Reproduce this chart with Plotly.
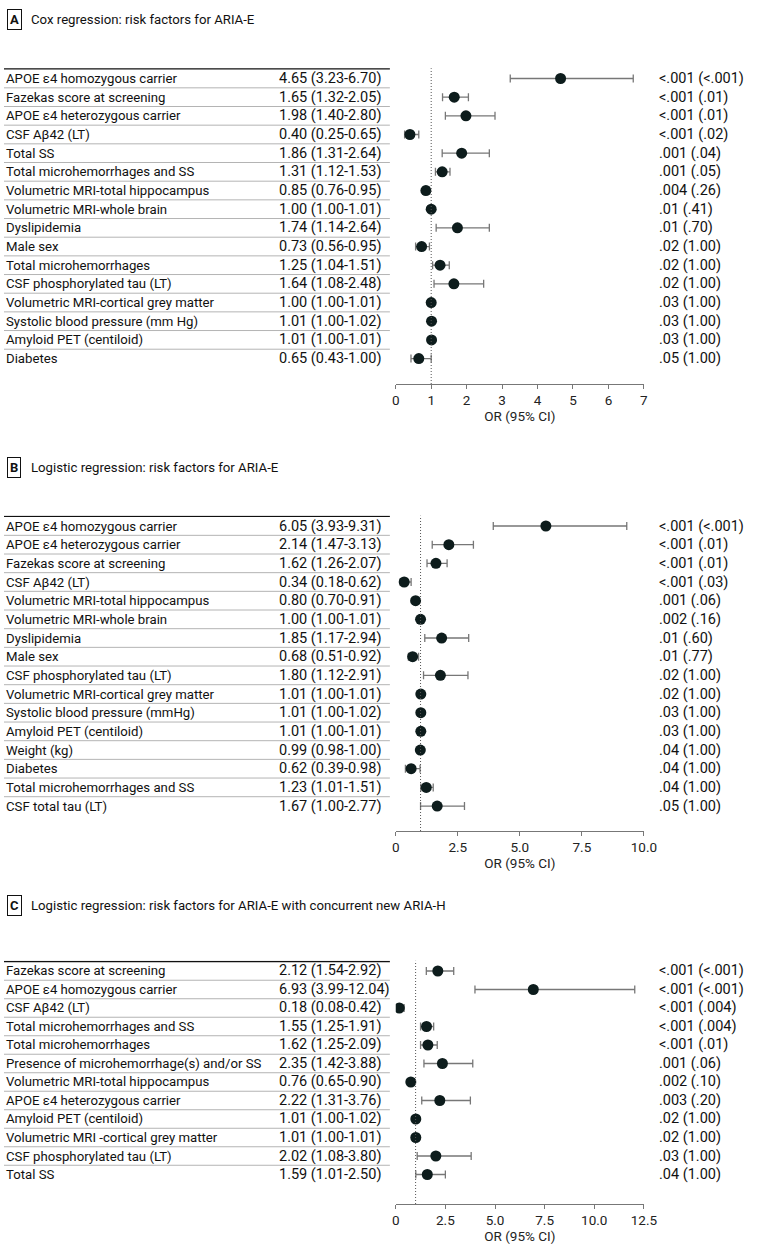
import plotly.graph_objects as go

W, H = 780, 1256

# ---------------- Data ----------------
a_labels = ["APOE ε4 homozygous carrier", "Fazekas score at screening", "APOE ε4 heterozygous carrier",
            "CSF Aβ42 (LT)", "Total SS", "Total microhemorrhages and SS", "Volumetric MRI-total hippocampus",
            "Volumetric MRI-whole brain", "Dyslipidemia", "Male sex", "Total microhemorrhages",
            "CSF phosphorylated tau (LT)", "Volumetric MRI-cortical grey matter",
            "Systolic blood pressure (mm Hg)", "Amyloid PET (centiloid)", "Diabetes"]
a_est = [4.65, 1.65, 1.98, 0.40, 1.86, 1.31, 0.85, 1.00, 1.74, 0.73, 1.25, 1.64, 1.00, 1.01, 1.01, 0.65]
a_lo = [3.23, 1.32, 1.40, 0.25, 1.31, 1.12, 0.76, 1.00, 1.14, 0.56, 1.04, 1.08, 1.00, 1.00, 1.00, 0.43]
a_hi = [6.70, 2.05, 2.80, 0.65, 2.64, 1.53, 0.95, 1.01, 2.64, 0.95, 1.51, 2.48, 1.01, 1.02, 1.01, 1.00]
a_p = ["<.001 (<.001)", "<.001 (.01)", "<.001 (.01)", "<.001 (.02)", ".001 (.04)", ".001 (.05)",
       ".004 (.26)", ".01 (.41)", ".01 (.70)", ".02 (1.00)", ".02 (1.00)", ".02 (1.00)", ".03 (1.00)",
       ".03 (1.00)", ".03 (1.00)", ".05 (1.00)"]
a_tickvals = [0, 1, 2, 3, 4, 5, 6, 7]
a_ticktext = ["0", "1", "2", "3", "4", "5", "6", "7"]

b_labels = ["APOE ε4 homozygous carrier", "APOE ε4 heterozygous carrier", "Fazekas score at screening",
            "CSF Aβ42 (LT)", "Volumetric MRI-total hippocampus", "Volumetric MRI-whole brain", "Dyslipidemia",
            "Male sex", "CSF phosphorylated tau (LT)", "Volumetric MRI-cortical grey matter",
            "Systolic blood pressure (mmHg)", "Amyloid PET (centiloid)", "Weight (kg)", "Diabetes",
            "Total microhemorrhages and SS", "CSF total tau (LT)"]
b_est = [6.05, 2.14, 1.62, 0.34, 0.80, 1.00, 1.85, 0.68, 1.80, 1.01, 1.01, 1.01, 0.99, 0.62, 1.23, 1.67]
b_lo = [3.93, 1.47, 1.26, 0.18, 0.70, 1.00, 1.17, 0.51, 1.12, 1.00, 1.00, 1.00, 0.98, 0.39, 1.01, 1.00]
b_hi = [9.31, 3.13, 2.07, 0.62, 0.91, 1.01, 2.94, 0.92, 2.91, 1.01, 1.02, 1.01, 1.00, 0.98, 1.51, 2.77]
b_p = ["<.001 (<.001)", "<.001 (.01)", "<.001 (.01)", "<.001 (.03)", ".001 (.06)", ".002 (.16)",
       ".01 (.60)", ".01 (.77)", ".02 (1.00)", ".02 (1.00)", ".03 (1.00)", ".03 (1.00)", ".04 (1.00)",
       ".04 (1.00)", ".04 (1.00)", ".05 (1.00)"]
b_tickvals = [0, 2.5, 5.0, 7.5, 10.0]
b_ticktext = ["0", "2.5", "5.0", "7.5", "10.0"]

c_labels = ["Fazekas score at screening", "APOE ε4 homozygous carrier", "CSF Aβ42 (LT)",
            "Total microhemorrhages and SS", "Total microhemorrhages",
            "Presence of microhemorrhage(s) and/or SS", "Volumetric MRI-total hippocampus",
            "APOE ε4 heterozygous carrier", "Amyloid PET (centiloid)", "Volumetric MRI -cortical grey matter",
            "CSF phosphorylated tau (LT)", "Total SS"]
c_est = [2.12, 6.93, 0.18, 1.55, 1.62, 2.35, 0.76, 2.22, 1.01, 1.01, 2.02, 1.59]
c_lo = [1.54, 3.99, 0.08, 1.25, 1.25, 1.42, 0.65, 1.31, 1.00, 1.00, 1.08, 1.01]
c_hi = [2.92, 12.04, 0.42, 1.91, 2.09, 3.88, 0.90, 3.76, 1.02, 1.01, 3.80, 2.50]
c_p = ["<.001 (<.001)", "<.001 (<.001)", "<.001 (.004)", "<.001 (.004)", "<.001 (.01)", ".001 (.06)",
       ".002 (.10)", ".003 (.20)", ".02 (1.00)", ".02 (1.00)", ".03 (1.00)", ".04 (1.00)"]
c_tickvals = [0, 2.5, 5.0, 7.5, 10.0, 12.5]
c_ticktext = ["0", "2.5", "5.0", "7.5", "10.0", "12.5"]

panels = [
    dict(letter="A", title="Cox regression: risk factors for ARIA-E", header="HR (95% CI)",
         labels=a_labels, est=a_est, lo=a_lo, hi=a_hi, p=a_p, tv=a_tickvals, tt=a_ticktext, xmax=7,
         title_y=20, row1=78.5, step=18.67, axis_y=384),
    dict(letter="B", title="Logistic regression: risk factors for ARIA-E", header="OR (95% CI)",
         labels=b_labels, est=b_est, lo=b_lo, hi=b_hi, p=b_p, tv=b_tickvals, tt=b_ticktext, xmax=10,
         title_y=467, row1=526, step=18.67, axis_y=831),
    dict(letter="C", title="Logistic regression: risk factors for ARIA-E with concurrent new ARIA-H",
         header="OR (95% CI)",
         labels=c_labels, est=c_est, lo=c_lo, hi=c_hi, p=c_p, tv=c_tickvals, tt=c_ticktext, xmax=12.5,
         title_y=905, row1=971, step=18.5, axis_y=1204),
]


def PX(x):
    return x / W


def PY(y):
    return (H - y) / H


FONT = "Roboto"
X_LABEL = 0
X_CI = 279
X_P = 668
X_AX0, X_AX1 = 401, 655
TABLE_END = 395
MARK = "#0d1c1c"
WHISK = "#777777"
LABELFONT = dict(size=13.2)
NUMFONT = dict(size=14.5)

fig = go.Figure()
annotations = []
shapes = []

for k, pn in enumerate(panels, start=1):
    sx = "" if k == 1 else str(k)
    xa, ya = "x" + sx, "y" + sx
    n = len(pn["labels"])
    rows = list(range(n))
    top_px = pn["row1"] - 0.55 * pn["step"]
    y_lo = (pn["axis_y"] - pn["row1"]) / pn["step"]
    y_hi = (top_px - pn["row1"]) / pn["step"]

    fig.add_trace(go.Scatter(
        x=pn["est"], y=rows, xaxis=xa, yaxis=ya, mode="markers",
        marker=dict(size=11, color=MARK),
        error_x=dict(type="data", symmetric=False,
                     array=[h - e for h, e in zip(pn["hi"], pn["est"])],
                     arrayminus=[e - l for e, l in zip(pn["est"], pn["lo"])],
                     color=WHISK, thickness=1.3, width=4),
        showlegend=False, hoverinfo="skip"))

    fig.layout["xaxis" + sx] = dict(
        domain=[PX(X_AX0), PX(X_AX1)], anchor=ya, range=[0, pn["xmax"]],
        tickvals=pn["tv"], ticktext=pn["tt"], showline=True, linecolor="#777", linewidth=1,
        ticks="outside", ticklen=4, tickcolor="#777", showgrid=False, zeroline=False,
        tickfont=dict(size=13.5, color="#222"),
        title=dict(text="OR (95% CI)", font=dict(size=13.5, color="#222"), standoff=3))
    fig.layout["yaxis" + sx] = dict(
        domain=[PY(pn["axis_y"]), PY(top_px)], anchor=xa,
        range=[y_lo, y_hi], visible=False, showgrid=False, zeroline=False)

    # reference line at 1
    shapes.append(dict(type="line", xref=xa, yref=ya + " domain", x0=1, x1=1, y0=0, y1=1,
                       line=dict(color="#555", width=1, dash="1px,2px")))

    # table rows
    for i in rows:
        e, l, h = pn["est"][i], pn["lo"][i], pn["hi"][i]
        annotations.append(dict(xref="paper", yref=ya, x=PX(X_LABEL), y=i, xanchor="left",
                                yanchor="middle", text=pn["labels"][i], showarrow=False,
                                font=LABELFONT))
        annotations.append(dict(xref="paper", yref=ya, x=PX(X_CI), y=i, xanchor="left",
                                yanchor="middle", text=f"{e:.2f} ({l:.2f}-{h:.2f})", showarrow=False,
                                font=NUMFONT))
        annotations.append(dict(xref="paper", yref=ya, x=PX(X_P), y=i, xanchor="left",
                                yanchor="middle", text=pn["p"][i], showarrow=False, font=NUMFONT))
        if i < n - 1:
            shapes.append(dict(type="line", xref="paper", yref=ya, x0=PX(0), x1=PX(TABLE_END),
                               y0=i + 0.5, y1=i + 0.5, line=dict(color="#b4b4b4", width=1)))
    # header line
    shapes.append(dict(type="line", xref="paper", yref=ya, x0=PX(0), x1=PX(TABLE_END),
                       y0=-0.52, y1=-0.52, line=dict(color="#111", width=1.5)))
    # headers
    annotations.append(dict(xref="paper", yref=ya, x=PX(X_CI), y=-1, xanchor="left", yanchor="middle",
                            text="<b>" + pn["header"] + "</b>", showarrow=False, font=dict(size=13.5)))
    annotations.append(dict(xref="paper", yref=ya, x=PX(X_P), y=-1, xanchor="left", yanchor="middle",
                            text="<b>(adjusted <i>P</i> value)</b>", showarrow=False, font=dict(size=13.5)))
    annotations.append(dict(xref="paper", yref=ya, x=PX(X_P), y=-2, xanchor="left", yanchor="middle",
                            text="<b><i>P</i> value</b>", showarrow=False, font=dict(size=13.5)))
    # panel title
    ty = PY(pn["title_y"])
    annotations.append(dict(xref="paper", yref="paper", x=PX(3), y=ty, xanchor="left", yanchor="middle",
                            text="<b>" + pn["letter"] + "</b>", showarrow=False,
                            bordercolor="#111", borderwidth=1, borderpad=2, font=dict(size=13)))
    annotations.append(dict(xref="paper", yref="paper", x=PX(26), y=ty, xanchor="left", yanchor="middle",
                            text=pn["title"], showarrow=False, font=dict(size=13.2)))

fig.update_layout(
    width=W, height=H, margin=dict(l=0, r=0, t=0, b=0),
    paper_bgcolor="white", plot_bgcolor="white",
    font=dict(family=FONT, size=13, color="#111"),
    annotations=annotations, shapes=shapes,
)

fig.write_html(
    "out.html",
    config={"displayModeBar": False, "staticPlot": True},
    post_script=("document.documentElement.style.overflow='hidden';"
                 "document.body.style.overflow='hidden';"
                 "document.body.style.margin='0px';document.body.style.padding='0px';"),
)
